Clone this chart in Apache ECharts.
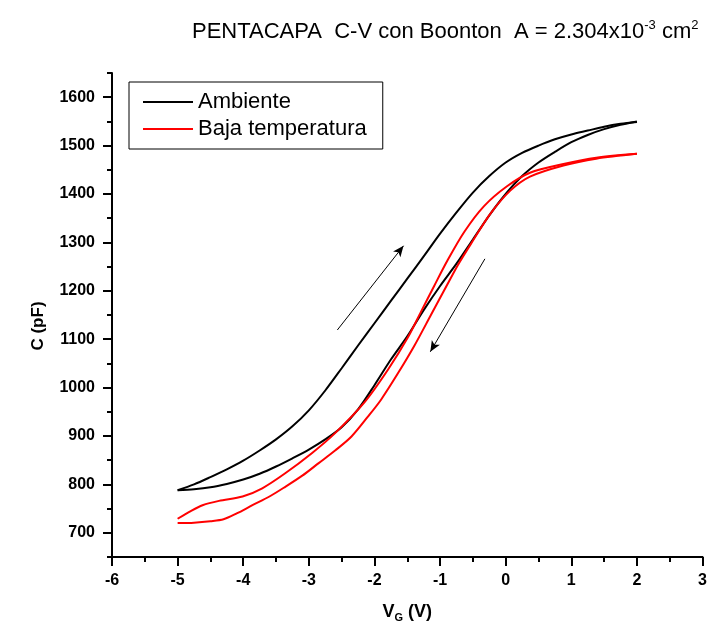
<!DOCTYPE html>
<html>
<head>
<meta charset="utf-8">
<script src="https://cdn.jsdelivr.net/npm/echarts@6/dist/echarts.min.js"></script>
<style>
html,body{margin:0;padding:0;background:#fff;}
#chart{width:710px;height:628px;}
</style>
</head>
<body>
<div id="chart"></div>
<script>
// ---- data ----
const ambienteIdaV = [-5,-4.75,-4.5,-4.25,-4,-3.75,-3.5,-3.25,-3,-2.75,-2.5,-2.25,-2,-1.75,-1.5,-1.25,-1,-0.75,-0.5,-0.25,0,0.25,0.5,0.75,1,1.25,1.5,1.75,2];
const ambienteIdaC = [788,800,815,831,849,870,893,920,953,994,1040,1087,1133,1179,1225,1271,1318,1362,1403,1437,1465,1485,1500,1513,1523,1531,1539,1545,1549];
const ambienteVueltaV = [2,1.75,1.5,1.25,1,0.75,0.5,0.25,0,-0.25,-0.5,-0.75,-1,-1.25,-1.5,-1.75,-2,-2.25,-2.5,-2.75,-3,-3.25,-3.5,-3.75,-4,-4.25,-4.5,-4.75,-5];
const ambienteVueltaC = [1550,1543,1534,1522,1507,1487,1465,1437,1400,1356,1306,1256,1210,1160,1106,1058,1005,955,918,893,872,854,837,822,810,801,794,790,788];
const bajaIdaV = [-5,-4.75,-4.5,-4.3,-4.1,-3.86,-3.6,-3.36,-3.1,-2.85,-2.6,-2.35,-2.1,-1.9,-1.64,-1.39,-1.14,-0.89,-0.73,-0.53,-0.23,0.07,0.37,0.88,1.38,2];
const bajaIdaC = [720,721,724,728,740,757,775,795,818,844,870,899,940,975,1030,1087,1150,1213,1253,1297,1360,1407,1436,1459,1473,1483];
const bajaVueltaV = [2,1.38,0.88,0.37,0.02,-0.33,-0.63,-0.89,-1.09,-1.29,-1.49,-1.79,-2.15,-2.6,-2.95,-3.36,-3.71,-4.01,-4.37,-4.62,-4.8,-5];
const bajaVueltaC = [1483,1475,1462,1444,1416,1375,1322,1262,1210,1157,1104,1038,970,906,865,823,792,775,766,757,745,729];
// sweep-direction arrows: [x0, y0, x1, y1]
const arrowUp = [-2.566, 1119, -1.557, 1293];
const arrowDown = [-0.317, 1266, -1.149, 1074];
const xTicks = [-6,-5,-4,-3,-2,-1,0,1,2,3];
const yTickLabels = [700,800,900,1000,1100,1200,1300,1400,1500,1600];
const seriesNames = ['Ambiente', 'Baja temperatura'];
const titleMain = 'PENTACAPA  C-V con Boonton  A = 2.304x10';
const titleExp = '-3';
const titleUnit = ' cm';
const titleUnitExp = '2';

const FONT = '"Liberation Sans", Arial, sans-serif';
const zip = (xs, ys) => xs.map((x, i) => [x, ys[i]]);

const chart = echarts.init(document.getElementById('chart'), null, {renderer: 'canvas'});

function lineSeries(name, color, xs, ys, extra) {
  return Object.assign({
    name: name,
    type: 'line',
    data: zip(xs, ys),
    showSymbol: false,
    symbol: 'none',
    smooth: 0.3,
    lineStyle: {color: color, width: 2},
    itemStyle: {color: color},
    emphasis: {disabled: true},
    silent: true,
    xAxisIndex: 0,
    yAxisIndex: 0,
    z: 3
  }, extra || {});
}

const option = {
  animation: false,
  backgroundColor: '#fff',
  title: {
    text: '{t|' + titleMain + '}{s|' + titleExp + '}{t|' + titleUnit + '}{s|' + titleUnitExp + '}',
    left: 187,
    top: 14,
    textStyle: {
      fontWeight: 'normal',
      rich: {
        t: {fontFamily: FONT, fontSize: 22, fontWeight: 'normal', color: '#000', lineHeight: 26},
        s: {fontFamily: FONT, fontSize: 13, fontWeight: 'normal', color: '#000', lineHeight: 13, verticalAlign: 'top'}
      }
    }
  },
  legend: {
    data: seriesNames,
    orient: 'vertical',
    left: 129,
    top: 82,
    itemWidth: 50,
    itemHeight: 14,
    itemGap: 5,
    padding: [9, 16, 9, 14],
    borderColor: '#000',
    borderWidth: 1,
    selectedMode: false,
    icon: 'path://M0,0 L50,0 L50,2 L0,2 Z',
    textStyle: {fontFamily: FONT, fontSize: 22, color: '#000'}
  },
  grid: {left: 112, right: 3, top: 73, bottom: 71, containLabel: false},
  xAxis: [{
    type: 'value',
    min: xTicks[0],
    max: xTicks[xTicks.length - 1],
    interval: 1,
    name: '{v|V}{g|G}{v| (V)}',
    nameLocation: 'middle',
    nameGap: 44,
    nameTextStyle: {
      rich: {
        v: {fontFamily: FONT, fontSize: 18, fontWeight: 'bold', color: '#000', lineHeight: 22},
        g: {fontFamily: FONT, fontSize: 11, fontWeight: 'bold', color: '#000', lineHeight: 11, verticalAlign: 'bottom'}
      }
    },
    axisLine: {show: true, onZero: false, lineStyle: {color: '#000', width: 2}},
    axisTick: {show: true, inside: false, length: 9, lineStyle: {color: '#000', width: 2}},
    minorTick: {show: true, splitNumber: 2, length: 5, lineStyle: {color: '#000', width: 2}},
    axisLabel: {fontFamily: FONT, fontSize: 16, fontWeight: 'bold', color: '#000', margin: 16},
    splitLine: {show: false}
  }],
  yAxis: [{
    type: 'value',
    min: 650,
    max: 1650,
    interval: 50,
    position: 'left',
    axisLine: {show: true, onZero: false, lineStyle: {color: '#000', width: 2}},
    axisTick: {show: true, inside: false, length: 5, lineStyle: {color: '#000', width: 2}},
    axisLabel: {show: false},
    splitLine: {show: false}
  }, {
    type: 'value',
    min: 650,
    max: 1650,
    interval: 50,
    position: 'left',
    name: 'C (pF)',
    nameLocation: 'middle',
    nameGap: 65,
    nameMoveOverlap: false,
    nameRotate: 90,
    nameTextStyle: {fontFamily: FONT, fontSize: 17, fontWeight: 'bold', color: '#000', padding: [0, 22, 0, 0]},
    axisLine: {show: false, onZero: false},
    axisTick: {show: true, inside: false, length: 9, customValues: yTickLabels, lineStyle: {color: '#000', width: 2}},
    axisLabel: {fontFamily: FONT, fontSize: 16, fontWeight: 'bold', color: '#000', margin: 17, customValues: yTickLabels, formatter: v => String(v)},
    splitLine: {show: false}
  }],
  series: [
    lineSeries(seriesNames[0], '#000000', ambienteIdaV, ambienteIdaC, {
      markLine: {
        silent: true,
        animation: false,
        symbol: ['none', 'arrow'],
        symbolSize: [7, 11],
        label: {show: false},
        emphasis: {disabled: true},
        lineStyle: {color: '#000', width: 1, type: 'solid'},
        data: [arrowUp, arrowDown].map(a => [{coord: [a[0], a[1]]}, {coord: [a[2], a[3]]}])
      }
    }),
    lineSeries(seriesNames[0], '#000000', ambienteVueltaV, ambienteVueltaC),
    lineSeries(seriesNames[1], '#ff0000', bajaIdaV, bajaIdaC),
    lineSeries(seriesNames[1], '#ff0000', bajaVueltaV, bajaVueltaC)
  ]
};
chart.setOption(option);
</script>
</body>
</html>
